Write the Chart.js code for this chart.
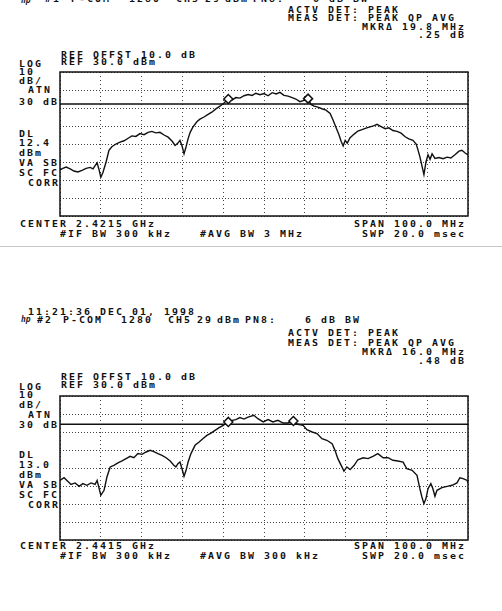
<!DOCTYPE html>
<html lang="en">
  <head>
    <meta charset="UTF-8" />
    <title>P-COM 1280 CH5 Spectrum Plots</title>
    <style>
      body {
        margin: 0;
        width: 502px;
        height: 611px;
        position: relative;
        overflow: hidden;
        background: #fff;
        font-family: "DejaVu Sans Mono", monospace;
      }
      .t {
        position: absolute;
        font-size: 9px;
        line-height: 9px;
        letter-spacing: 1.85px;
        font-weight: bold;
        white-space: pre;
        color: #111;
        transform: scaleX(1.1);
        transform-origin: left top;
      }
      .logo {
        position: absolute;
        font-size: 8px;
        line-height: 8px;
        font-style: italic;
        font-weight: bold;
        color: #222;
      }
      canvas {
        position: absolute;
      }
      .scan {
        position: absolute;
        left: 0;
        top: 246px;
        width: 502px;
        height: 1px;
        background: #c8c8c8;
      }
    </style>
  </head>
  <body>
    <!-- panel 1 header (top line cut off by the scan) -->
    <div class="logo" style="left: 21px; top: -3px">hp</div>
    <div class="t" style="left: 45px; top: -5px">#1</div>
    <div class="t" style="left: 71px; top: -5px">P-COM</div>
    <div class="t" style="left: 129px; top: -5px">1280</div>
    <div class="t" style="left: 176px; top: -5px">CH5</div>
    <div class="t" style="left: 205px; top: -5px">29</div>
    <div class="t" style="left: 225px; top: -5px">dBm</div>
    <div class="t" style="left: 253px; top: -5px">PN8:</div>
    <div class="t" style="left: 313px; top: -5px">6 dB BW</div>
    <div class="t" style="left: 288px; top: 6px">ACTV DET: PEAK</div>
    <div class="t" style="left: 288px; top: 14px">MEAS DET: PEAK QP AVG</div>
    <div class="t" style="left: 362px; top: 22.5px">MKRΔ 19.8 MHz</div>
    <div class="t" style="left: 418px; top: 31px">.25 dB</div>
    <div class="t" style="left: 61px; top: 50.7px">REF OFFST 10.0 dB</div>
    <div class="t" style="left: 61px; top: 58px">REF 30.0 dBm</div>
    <div class="t" style="left: 19px; top: 59.7px">LOG</div>
    <div class="t" style="left: 19px; top: 68px">10</div>
    <div class="t" style="left: 19px; top: 76.5px">dB/</div>
    <div class="t" style="left: 28px; top: 86px">ATN</div>
    <div class="t" style="left: 19px; top: 98px">30 dB</div>
    <div class="t" style="left: 19px; top: 129.7px">DL</div>
    <div class="t" style="left: 19px; top: 139px">12.4</div>
    <div class="t" style="left: 19px; top: 149px">dBm</div>
    <div class="t" style="left: 19px; top: 158.5px">VA SB</div>
    <div class="t" style="left: 19px; top: 168.5px">SC FC</div>
    <div class="t" style="left: 28px; top: 178.5px">CORR</div>
    <div class="t" style="left: 20px; top: 220px">CENTER 2.4215 GHz</div>
    <div class="t" style="left: 60px; top: 229.5px">#IF BW 300 kHz</div>
    <div class="t" style="left: 200px; top: 229.5px">#AVG BW 3 MHz</div>
    <div class="t" style="left: 354px; top: 220px">SPAN 100.0 MHz</div>
    <div class="t" style="left: 362px; top: 229.5px">SWP 20.0 msec</div>

    <div class="scan"></div>

    <!-- panel 2 header -->
    <div class="t" style="left: 28px; top: 308px">11:21:36 DEC 01, 1998</div>
    <div class="logo" style="left: 21px; top: 316px">hp</div>
    <div class="t" style="left: 37px; top: 316px">#2</div>
    <div class="t" style="left: 63px; top: 316px">P-COM</div>
    <div class="t" style="left: 121px; top: 316px">1280</div>
    <div class="t" style="left: 168px; top: 316px">CH5</div>
    <div class="t" style="left: 197px; top: 316px">29</div>
    <div class="t" style="left: 217px; top: 316px">dBm</div>
    <div class="t" style="left: 245px; top: 316px">PN8:</div>
    <div class="t" style="left: 305px; top: 316px">6 dB BW</div>
    <div class="t" style="left: 288px; top: 329px">ACTV DET: PEAK</div>
    <div class="t" style="left: 288px; top: 339px">MEAS DET: PEAK QP AVG</div>
    <div class="t" style="left: 362px; top: 347.5px">MKRΔ 16.0 MHz</div>
    <div class="t" style="left: 418px; top: 356.5px">.48 dB</div>
    <div class="t" style="left: 61px; top: 373.3px">REF OFFST 10.0 dB</div>
    <div class="t" style="left: 61px; top: 380.7px">REF 30.0 dBm</div>
    <div class="t" style="left: 19px; top: 383px">LOG</div>
    <div class="t" style="left: 19px; top: 391px">10</div>
    <div class="t" style="left: 19px; top: 400.7px">dB/</div>
    <div class="t" style="left: 28px; top: 410.7px">ATN</div>
    <div class="t" style="left: 19px; top: 420.7px">30 dB</div>
    <div class="t" style="left: 19px; top: 451px">DL</div>
    <div class="t" style="left: 19px; top: 461px">13.0</div>
    <div class="t" style="left: 19px; top: 471px">dBm</div>
    <div class="t" style="left: 19px; top: 480.7px">VA SB</div>
    <div class="t" style="left: 19px; top: 490.7px">SC FC</div>
    <div class="t" style="left: 28px; top: 500.7px">CORR</div>
    <div class="t" style="left: 20px; top: 542.3px">CENTER 2.4415 GHz</div>
    <div class="t" style="left: 60px; top: 552.3px">#IF BW 300 kHz</div>
    <div class="t" style="left: 200px; top: 552.3px">#AVG BW 300 kHz</div>
    <div class="t" style="left: 354px; top: 542.3px">SPAN 100.0 MHz</div>
    <div class="t" style="left: 362px; top: 552.3px">SWP 20.0 msec</div>

    <canvas id="plot1" width="430" height="165" style="left: 50px; top: 62px"></canvas>
    <canvas id="plot2" width="430" height="165" style="left: 50px; top: 386px"></canvas>

    <script src="https://cdn.jsdelivr.net/npm/chart.js"></script>
    <script>
      // frequency offset from center (MHz), level (dBm)
      const freq1 = [
        -50.0, -49.3, -48.5, -47.5, -46.6, -45.6, -44.6, -43.6, -42.6, -41.9,
        -41.4, -40.9, -40.4, -40.0, -39.5, -38.7, -38.0, -37.3, -36.3, -35.3,
        -34.3, -33.3, -32.4, -31.4, -30.4, -29.4, -28.4, -27.5, -26.5, -25.5,
        -24.5, -23.5, -22.5, -21.8, -21.1, -20.6, -20.1, -19.6, -19.1, -18.6,
        -18.1, -17.4, -16.4, -15.7, -14.7, -13.7, -12.7, -11.8, -10.8, -9.8,
        -8.8, -7.8, -6.9, -5.9, -4.9, -3.9, -2.9, -2.0, -1.0, 0.0,
        1.0, 2.0, 3.0, 3.9, 4.9, 5.9, 6.9, 7.8, 8.8, 9.8,
        10.8, 11.5, 12.3, 13.2, 14.2, 15.2, 16.2, 16.9, 17.6, 18.4,
        18.9, 19.4, 19.9, 20.4, 21.1, 22.1, 23.0, 24.0, 25.0, 26.0,
        27.0, 27.7, 28.7, 29.7, 30.6, 31.6, 32.6, 33.6, 34.6, 35.5,
        36.5, 37.3, 37.7, 38.2, 38.7, 39.2, 39.7, 40.2, 40.7, 41.2,
        41.9, 42.9, 43.9, 44.9, 45.8, 46.8, 47.8, 48.5, 49.3, 50.0,
      ];
      const level1 = [
        -24.4, -23.5, -22.8, -23.8, -25.0, -25.5, -24.6, -23.5, -23.0, -23.8,
        -22.0, -20.5, -24.5, -28.5, -26.0, -20.0, -13.5, -11.5, -10.0, -9.0,
        -8.2, -6.8, -5.5, -5.8, -4.2, -4.8, -3.5, -3.0, -3.8, -3.5,
        -5.0, -6.2, -8.5, -10.8, -9.5, -8.0, -11.0, -15.5, -11.5, -7.0,
        -3.5, -0.5, 2.5, 3.8, 5.0, 6.5, 7.8, 9.5, 11.0, 12.8,
        15.0, 14.5, 15.8, 15.5, 16.8, 17.5, 17.0, 18.2, 17.4, 18.0,
        16.8, 18.5, 17.8, 18.7, 17.0, 16.6, 15.8, 15.0, 13.5, 14.2,
        15.2, 12.0, 11.0, 10.5, 9.6, 8.8, 7.0, 3.5, -0.5, -5.0,
        -8.5, -11.0, -8.0, -9.5, -6.5, -4.5, -2.8, -2.0, -1.2, -0.5,
        0.2, 0.9, -0.3, -1.5, -1.0, -2.5, -3.0, -4.0, -6.0, -7.2,
        -8.0, -10.0, -13.0, -17.0, -22.0, -27.0, -20.0, -16.0, -18.5, -15.5,
        -18.0, -17.5, -18.2, -17.3, -17.8, -16.0, -14.0, -13.5, -15.0, -16.0,
      ];
      const markerFreq1 = [-8.75, 10.8];
      const markerLevel1 = [15.0, 15.2];
      const displayLine1 = 12.2;

      const freq2 = [
        -50.0, -49.0, -48.3, -47.3, -46.3, -45.3, -44.4, -43.4, -42.4, -41.4,
        -40.9, -40.4, -40.0, -39.2, -38.5, -37.7, -36.8, -35.8, -34.8, -33.8,
        -32.8, -31.9, -30.9, -29.9, -28.9, -27.9, -27.0, -26.0, -25.0, -24.0,
        -23.0, -22.1, -21.6, -21.1, -20.6, -20.1, -19.6, -19.1, -18.6, -17.9,
        -16.9, -15.9, -15.0, -14.0, -13.0, -12.0, -11.0, -10.0, -8.8, -7.8,
        -6.9, -5.9, -4.9, -3.9, -2.5, -1.5, -0.2, 1.0, 2.2, 3.4,
        4.7, 5.9, 7.1, 8.3, 9.6, 10.5, 11.8, 13.0, 14.2, 15.4,
        16.7, 17.4, 18.1, 19.1, 19.6, 20.3, 21.1, 22.1, 23.0, 24.3,
        25.5, 26.7, 27.9, 29.2, 30.4, 31.6, 32.8, 34.1, 35.0, 36.3,
        37.5, 38.2, 38.7, 39.2, 39.7, 40.2, 40.9, 41.4, 41.9, 42.4,
        43.6, 44.9, 46.1, 47.3, 48.0, 48.8, 49.8, 50.0,
      ];
      const level2 = [
        -16.9, -15.4, -16.9, -19.1, -18.3, -20.2, -18.7, -19.6, -18.3, -19.1,
        -16.9, -21.5, -25.2, -22.4, -15.0, -9.4, -8.5, -7.2, -6.1, -4.8,
        -3.5, -4.3, -2.0, -2.4, -1.1, -0.2, -0.9, -2.0, -3.0, -4.3,
        -6.1, -8.5, -9.4, -7.6, -6.7, -10.4, -14.6, -11.3, -6.7, -2.0,
        2.6, 4.4, 6.3, 8.1, 9.4, 10.9, 12.4, 13.7, 15.6, 16.5,
        16.9, 18.0, 17.2, 18.3, 19.3, 17.4, 15.6, 16.9, 15.6, 16.5,
        15.0, 15.0, 16.1, 14.3, 13.7, 11.3, 10.0, 9.1, 6.3, 5.4,
        3.5, -0.2, -4.8, -9.4, -11.7, -9.4, -10.9, -8.5, -5.4, -4.3,
        -4.8, -3.5, -2.0, -4.3, -4.3, -5.7, -6.1, -6.7, -10.4, -11.3,
        -14.1, -21.5, -26.1, -29.8, -27.0, -21.5, -18.7, -21.5, -25.7, -22.4,
        -20.9, -20.2, -19.6, -18.3, -15.4, -15.9, -16.9, -18.3,
      ];
      const markerFreq2 = [-8.75, 7.2];
      const markerLevel2 = [15.6, 16.1];
      const displayLine2 = 14.3;

      const frame = {
        id: "frame",
        beforeDatasetsDraw(chart) {
          const { ctx, chartArea: a } = chart;
          ctx.save();
          ctx.strokeStyle = "#111";
          ctx.lineWidth = 1.5;
          ctx.strokeRect(a.left, a.top, a.right - a.left, a.bottom - a.top);
          ctx.restore();
        },
      };

      function spectrum(id, freq, level, markF, markL, dl) {
        new Chart(document.getElementById(id), {
          type: "line",
          data: {
            datasets: [
              {
                data: markF.map((f, i) => ({ x: f, y: markL[i] })),
                showLine: false,
                pointStyle: "rectRot",
                pointRadius: 4.5,
                pointBackgroundColor: "#fff",
                pointBorderColor: "#111",
                pointBorderWidth: 1.5,
              },
              {
                data: freq.map((f, i) => ({ x: f, y: level[i] })),
                borderColor: "#111",
                borderWidth: 1.4,
                pointRadius: 0,
                tension: 0,
              },
              {
                data: [
                  { x: -50, y: dl },
                  { x: 50, y: dl },
                ],
                borderColor: "#111",
                borderWidth: 1.5,
                pointRadius: 0,
              },
            ],
          },
          options: {
            responsive: false,
            animation: false,
            events: [],
            layout: {
              padding: { left: 10, top: 10, right: 12, bottom: 11 },
              autoPadding: false,
            },
            plugins: {
              legend: { display: false },
              tooltip: { enabled: false },
            },
            scales: {
              x: {
                type: "linear",
                min: -50,
                max: 50,
                ticks: { display: false, stepSize: 10 },
                grid: { color: "#444", drawTicks: false, lineWidth: 1 },
                border: { display: false, dash: [1, 3] },
              },
              y: {
                type: "linear",
                min: -50,
                max: 30,
                ticks: { display: false, stepSize: 10 },
                grid: { color: "#444", drawTicks: false, lineWidth: 1 },
                border: { display: false, dash: [1, 2] },
              },
            },
          },
          plugins: [frame],
        });
      }

      spectrum("plot1", freq1, level1, markerFreq1, markerLevel1, displayLine1);
      spectrum("plot2", freq2, level2, markerFreq2, markerLevel2, displayLine2);
    </script>
  </body>
</html>
